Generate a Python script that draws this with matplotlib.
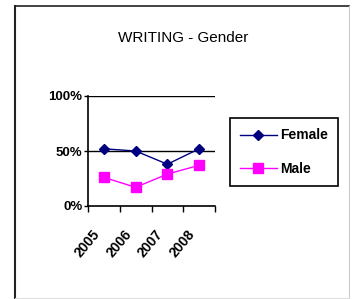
import numpy as np
import matplotlib
matplotlib.use("Agg")
import matplotlib.pyplot as plt
import matplotlib.transforms as mtransforms
from matplotlib.lines import Line2D

plt.rcParams['font.family'] = ['Liberation Sans', 'DejaVu Sans']

# data
years = ["2005", "2006", "2007", "2008"]
female = [52, 50, 38, 52]
male = [26, 17, 29, 37]
y_ticks = [0, 50, 100]
y_labels = ["0%", "50%", "100%"]

W, H = 352, 299
fig = plt.figure(figsize=(W / 100, H / 100), dpi=100)

# outer frame like the pasted Excel chart
fig.add_artist(Line2D([15 / W, 15 / W], [0, 1 - 6 / H], color='#222222', lw=1.5, transform=fig.transFigure))
fig.add_artist(Line2D([15 / W, 349 / W], [1 - 6 / H, 1 - 6 / H], color='#222222', lw=1.2, transform=fig.transFigure))
fig.add_artist(Line2D([349 / W, 349 / W], [1 / H, 1 - 6 / H], color='#cccccc', lw=0.8, transform=fig.transFigure))
fig.add_artist(Line2D([15 / W, 349 / W], [1 / H, 1 / H], color='#dddddd', lw=0.8, transform=fig.transFigure))

ax = fig.add_axes([88 / W, 1 - 206 / H, 127 / W, 110 / H])
x = np.arange(len(years))

ax.plot(x, female, color='#000080', marker='D', markersize=5, lw=1, label='Female')
ax.plot(x, male, color='#ff00ff', marker='s', markersize=6.5, lw=1, label='Male')

ax.set_xlim(-0.5, len(years) - 0.5)
ax.set_ylim(0, 100)

for v in [50, 100]:
    ax.axhline(v, color='black', lw=1, zorder=0)

ax.spines['top'].set_visible(False)
ax.spines['right'].set_visible(False)
ax.spines['left'].set_linewidth(1.2)
ax.spines['bottom'].set_linewidth(1.2)

ax.set_yticks(y_ticks)
ax.set_yticklabels(y_labels, fontsize=9.5, fontweight='bold')
ax.tick_params(axis='y', direction='out', length=3, width=1, pad=1)

ax.set_xticks(np.arange(len(years) + 1) - 0.5)
ax.set_xticklabels([])
ax.tick_params(axis='x', which='major', direction='out', length=4, width=1)
ax.set_xticks(x, minor=True)
ax.set_xticklabels(years, minor=True, rotation=50, ha='right', rotation_mode='anchor',
                   fontsize=10, fontweight='bold')
ax.tick_params(axis='x', which='minor', length=0, pad=15)
shift = mtransforms.ScaledTranslation(-12 / 100, 0, fig.dpi_scale_trans)
for lab in ax.get_xticklabels(minor=True):
    lab.set_transform(lab.get_transform() + shift)

fig.text(183 / W, 1 - 38 / H, "WRITING - Gender", ha='center', va='center', fontsize=11)

leg = fig.legend(loc='upper left', bbox_to_anchor=(230 / W, 1 - 118 / H), frameon=True,
                 fancybox=False, edgecolor='black', framealpha=1, handlelength=2.6,
                 prop={'size': 10, 'weight': 'bold'}, borderpad=0.75, labelspacing=1.4,
                 handletextpad=0.25, borderaxespad=0)
leg.get_frame().set_linewidth(1.2)

fig.savefig('out.png', dpi=100)
